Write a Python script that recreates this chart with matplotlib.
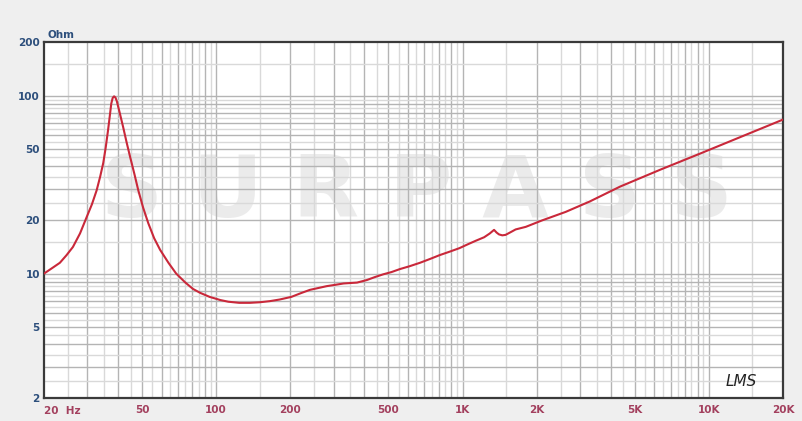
import numpy as np
import matplotlib.pyplot as plt

# impedance curve (Hz, Ohm)
freq_hz = [20, 21.5, 23.2, 24.7, 26.2, 28, 29.9, 31.3, 32.7, 33.8, 34.8, 35.6,
           36.4, 37, 37.5, 38, 38.5, 39, 39.5, 40.5, 41.9, 43.3, 44.7, 46.5,
           48.3, 50.5, 53, 56, 59.2, 64, 68.8, 75, 80.5, 86, 94, 104, 112, 124,
           137, 150, 165, 181, 202, 220, 240, 260, 281, 305, 329, 350, 373, 409,
           440, 476, 515, 557, 610, 672, 740, 808, 890, 972, 1050, 1133, 1224,
           1290, 1343, 1375, 1406, 1450, 1496, 1570, 1643, 1806, 2105, 2621,
           3283, 4360, 6340, 9210, 13400, 20000]
impedance = [10.0, 10.7, 11.5, 12.7, 14.1, 16.8, 21.0, 24.5, 29.3, 35, 41.8, 51,
             64, 77, 90, 97, 99, 97.5, 93, 81, 66.6, 54.5, 45.4, 36.5,
             29.3, 23.5, 19.2, 15.8, 13.6, 11.5, 10.0, 8.9, 8.2, 7.8, 7.4, 7.1, 6.95, 6.85,
             6.85, 6.9, 7.0, 7.15, 7.4, 7.75, 8.1, 8.3, 8.5, 8.65, 8.8, 8.85, 8.9, 9.2,
             9.55, 9.9, 10.2, 10.6, 11.0, 11.5, 12.1, 12.7, 13.3, 13.9, 14.6, 15.3, 16.0,
             16.8, 17.6, 17.0, 16.6, 16.4, 16.5, 17.1, 17.7, 18.3, 19.9, 22.2,
             25.4, 30.8, 38.3, 47.2, 58.4, 73.3]

x_ticks = [20, 50, 100, 200, 500, 1000, 2000, 5000, 10000, 20000]
x_labels = ["", "50", "100", "200", "500", "1K", "2K", "5K", "10K", "20K"]
y_ticks = [2, 5, 10, 20, 50, 100, 200]
y_labels = ["2", "5", "10", "20", "50", "100", "200"]

fig = plt.figure(figsize=(8.03, 4.21), dpi=100)
fig.patch.set_facecolor("#efefef")
ax = fig.add_axes([0.0548, 0.0546, 0.9203, 0.8457])
ax.set_facecolor("white")
ax.set_xscale("log")
ax.set_yscale("log")
ax.set_xlim(20, 20000)
ax.set_ylim(2, 200)

# grid: lines at 1, 1.5, 2, ... 9.5 times each decade
for dec in [10, 100, 1000, 10000]:
    for m in np.arange(1, 10, 0.5):
        v = m * dec
        if 20 < v < 20000:
            dark = float(m).is_integer()
            ax.axvline(v, color="#b4b4b4" if dark else "#d9d9d9", lw=1.0, zorder=1)
for dec in [1, 10, 100]:
    for m in np.arange(1, 10, 0.5):
        v = m * dec
        if 2 < v < 200:
            dark = float(m).is_integer()
            ax.axhline(v, color="#b4b4b4" if dark else "#d9d9d9", lw=1.0, zorder=1)

# watermark
ax.text(0.505, 0.575, "S U R P A S S", transform=ax.transAxes, ha="center", va="center",
        fontsize=62, fontweight="bold", color="#d8d8d8", alpha=0.5, zorder=0.5)

ax.plot(freq_hz, impedance, color="#c9283a", lw=1.5, zorder=3)

ax.set_xticks(x_ticks)
ax.set_xticklabels(x_labels)
ax.set_yticks(y_ticks)
ax.set_yticklabels(y_labels)
ax.minorticks_off()
ax.tick_params(axis="x", length=0, pad=5, labelsize=7.5, labelcolor="#a3405e")
ax.tick_params(axis="y", length=0, pad=3, labelsize=7.5, labelcolor="#2d4f7c")
for lab in ax.get_xticklabels() + ax.get_yticklabels():
    lab.set_fontweight("bold")

ax.text(0.0, -0.022, "20  Hz", transform=ax.transAxes, ha="left", va="top",
        fontsize=7.5, fontweight="bold", color="#a3405e")
ax.text(0.005, 1.005, "Ohm", transform=ax.transAxes, ha="left", va="bottom",
        fontsize=7.5, fontweight="bold", color="#2d4f7c")
ax.text(0.965, 0.045, "LMS", transform=ax.transAxes, ha="right", va="center",
        fontsize=11, fontstyle="italic", color="#222222")

for s in ax.spines.values():
    s.set_color("#3a3a3a")
    s.set_linewidth(1.6)

fig.savefig("out.png", dpi=100, facecolor=fig.get_facecolor())
